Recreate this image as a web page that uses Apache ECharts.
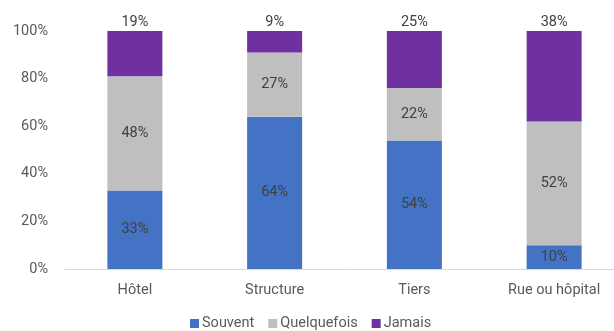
<!DOCTYPE html>
<html><head><meta charset="utf-8">
<script src="https://cdn.jsdelivr.net/npm/echarts@6/dist/echarts.min.js"></script>
<style>html,body{margin:0;padding:0;background:#fff;overflow:hidden}#c{width:624px;height:331px}</style>
</head><body><div id="c"></div>
<script>
const categories = ['Hôtel', 'Structure', 'Tiers', 'Rue ou hôpital'];
const souvent = [33, 64, 54, 10];
const quelquefois = [48, 27, 22, 52];
const jamais = [19, 9, 25, 38];
const seriesNames = ['Souvent', 'Quelquefois', 'Jamais'];
const colors = ['#4472C4', '#BFBFBF', '#7030A0'];
const yTicks = [0, 20, 40, 60, 80, 100];

const font = 'Roboto, "DejaVu Sans", sans-serif';
const chart = echarts.init(document.getElementById('c'), null, {renderer: 'canvas'});
const mk = (name, data, color, pos) => ({
  name, type: 'bar', stack: 'all', data, barWidth: 55,
  itemStyle: {color},
  label: {show: true, position: pos, distance: 1, formatter: '{c}%', color: '#404040',
    fontFamily: font, fontSize: 14.5}
});
chart.setOption({
  animation: false,
  textStyle: {fontFamily: font},
  grid: {left: 65, right: 0, top: 31, height: 238},
  legend: {top: 311, left: 185, itemWidth: 9, itemHeight: 9, itemGap: 14,
    icon: 'rect', textStyle: {color: '#595959', fontSize: 14.5, fontFamily: font, padding: [0, 0, 0, -2]},
    data: seriesNames},
  xAxis: {type: 'category', data: categories,
    axisLine: {lineStyle: {color: '#D9D9D9', width: 1}}, axisTick: {show: false},
    axisLabel: {color: '#595959', fontSize: 14.5, margin: 14, fontFamily: font}},
  yAxis: {type: 'value', min: yTicks[0], max: yTicks[yTicks.length - 1], interval: 20,
    splitLine: {show: false}, axisLine: {show: false}, axisTick: {show: false},
    axisLabel: {color: '#595959', fontSize: 14.5, margin: 17, formatter: '{value}%', fontFamily: font}},
  series: [
    mk(seriesNames[0], souvent, colors[0], 'inside'),
    mk(seriesNames[1], quelquefois, colors[1], 'inside'),
    mk(seriesNames[2], jamais, colors[2], 'top')
  ]
});
</script></body></html>
